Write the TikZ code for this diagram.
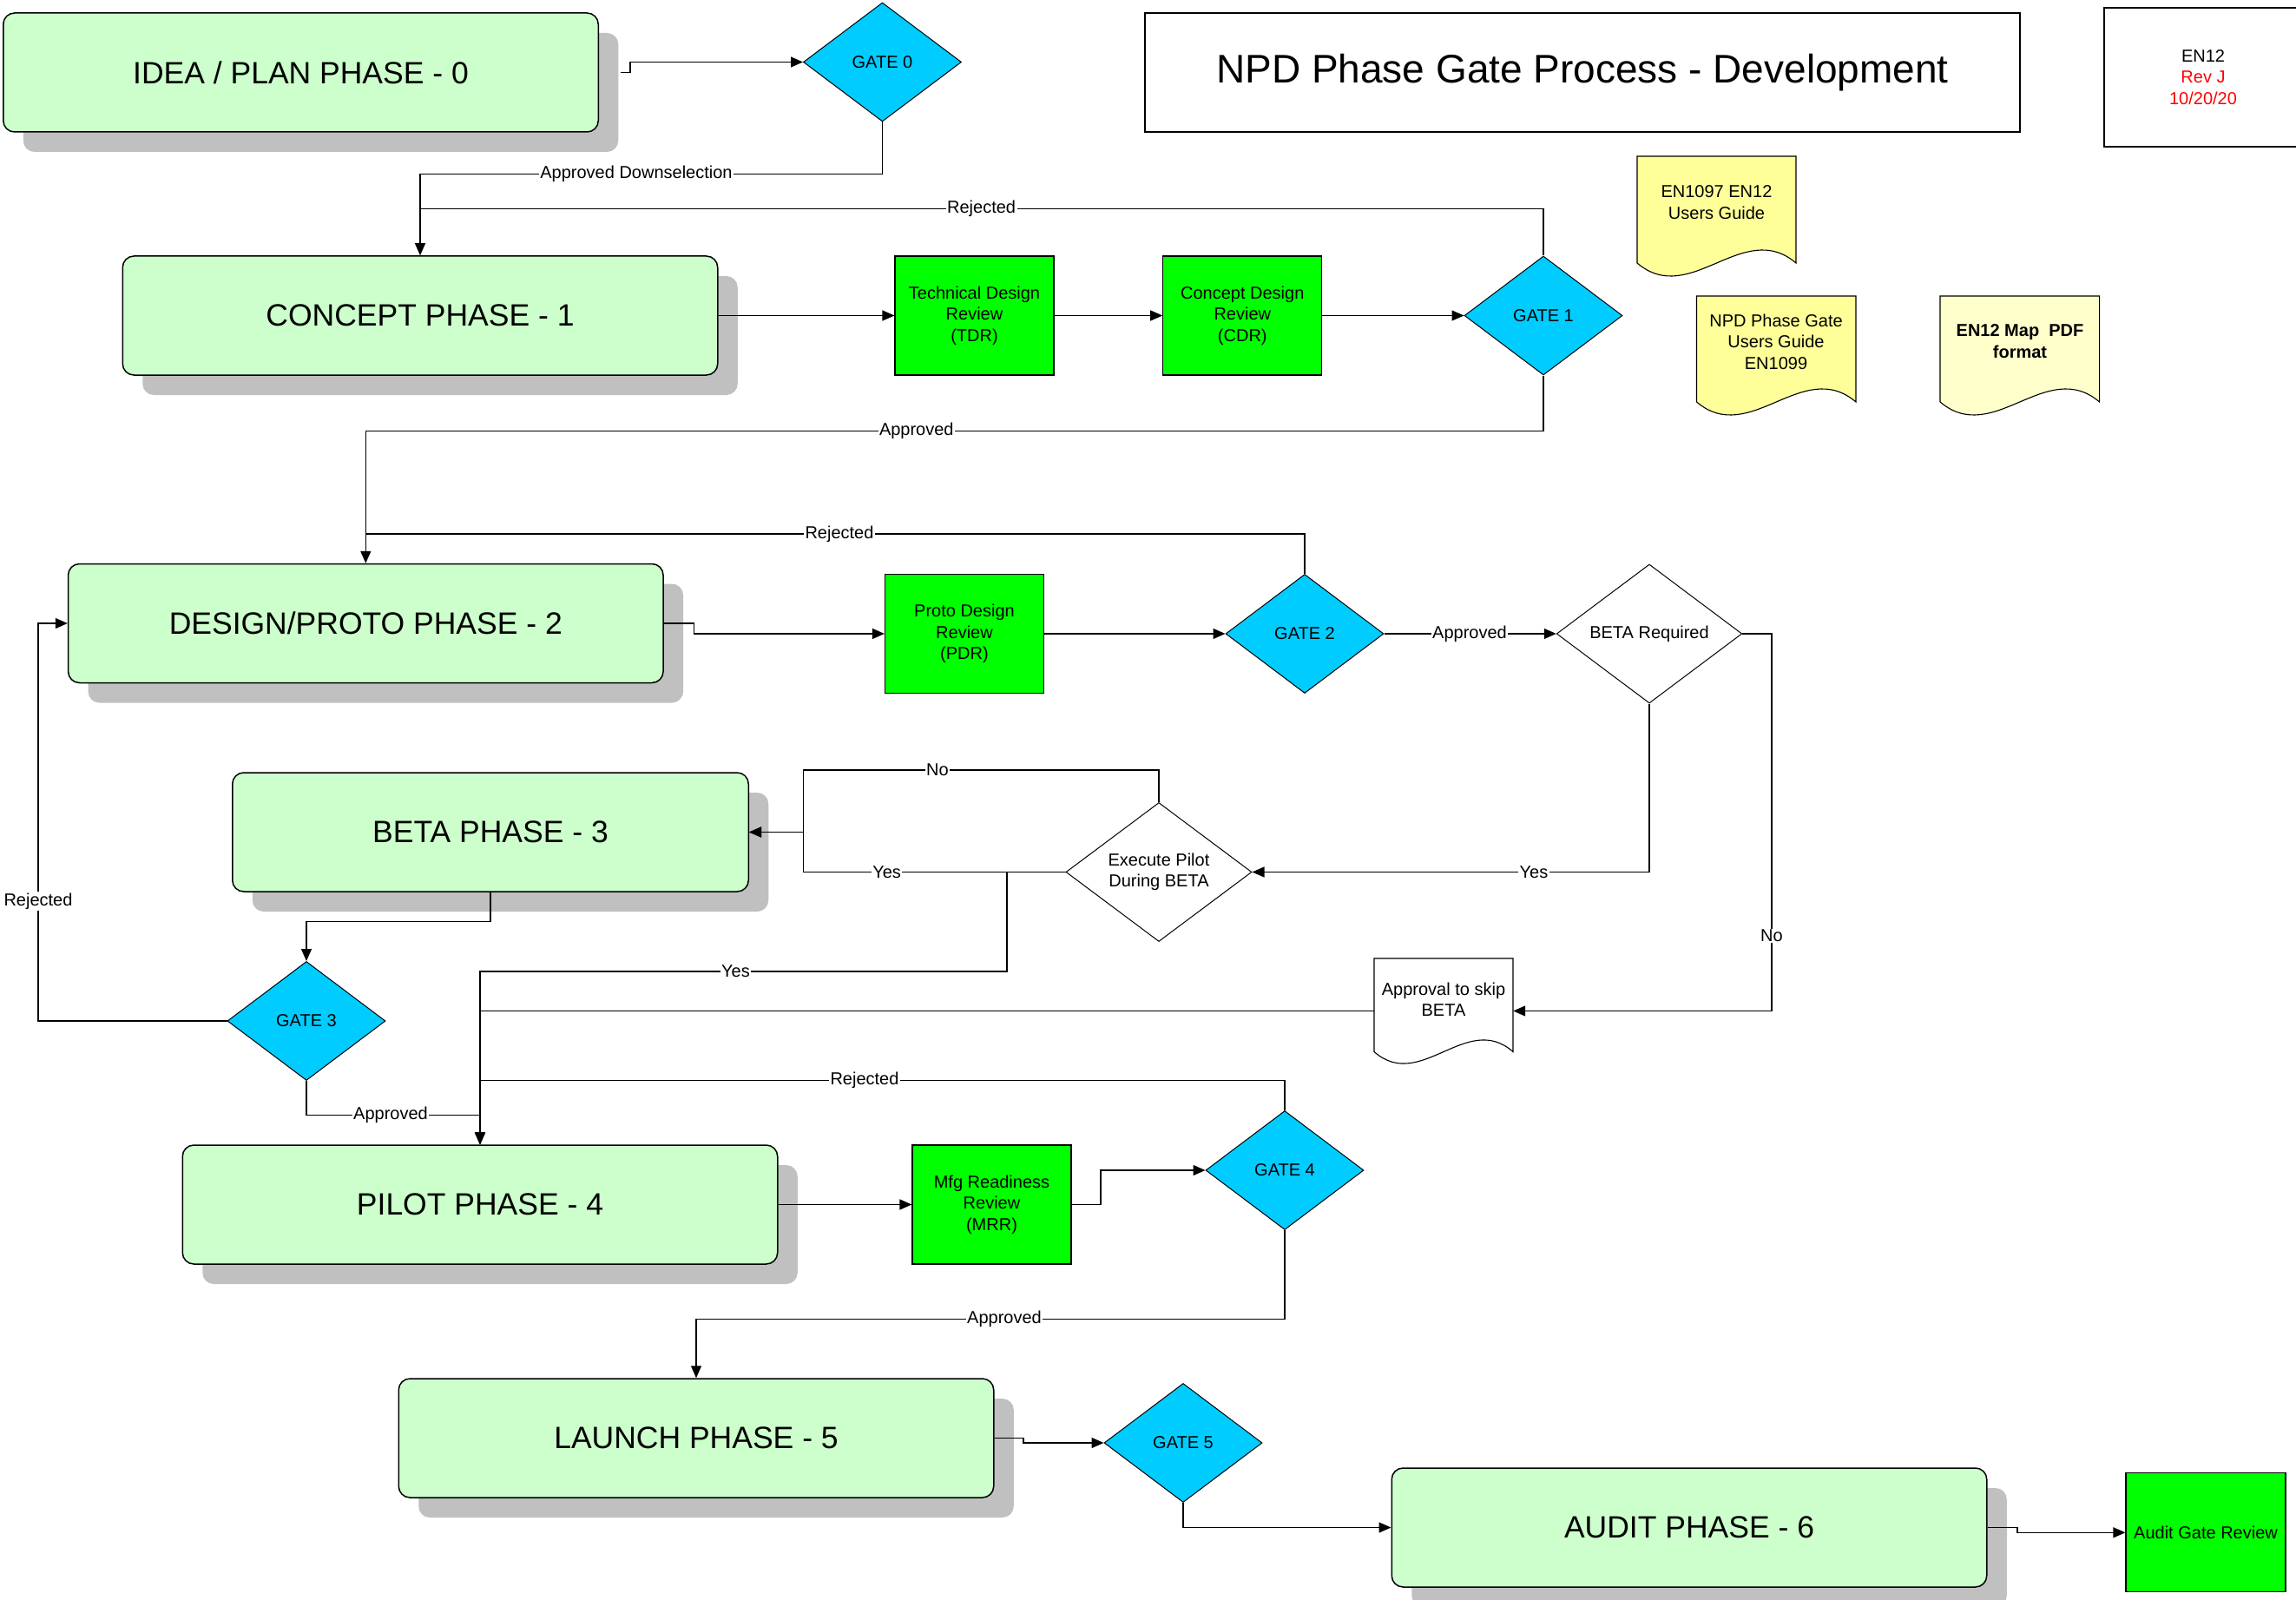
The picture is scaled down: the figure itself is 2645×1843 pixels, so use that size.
\documentclass[tikz,border=0pt]{standalone}
\usepackage{fontspec}
\setmainfont{Liberation Sans}
\usetikzlibrary{shapes.geometric,arrows.meta,shadows,calc}
\definecolor{phasefill}{HTML}{CCFFCC}
\definecolor{shadowgray}{HTML}{C0C0C0}
\definecolor{revgreen}{HTML}{00FF00}
\definecolor{gatecyan}{HTML}{00CCFF}
\definecolor{docyellow}{HTML}{FFFF99}
\definecolor{docpale}{HTML}{FFFFCC}
\definecolor{revred}{HTML}{FF0000}
\newcommand{\labfont}{\fontsize{20}{24.5}\selectfont}
\newcommand{\phasefont}{\fontsize{35.5}{40}\selectfont}
\newcommand{\titlefont}{\fontsize{46}{52}\selectfont}
\tikzset{
  phase/.style={rectangle, rounded corners=13pt, draw=black, line width=1.5pt, fill=phasefill,
    minimum width=685.5pt, minimum height=137pt, inner sep=0pt, font=\phasefont,
    drop shadow={shadow xshift=23pt, shadow yshift=-23pt, fill=shadowgray, opacity=1, draw=none}},
  review/.style={rectangle, draw=black, line width=1.2pt, fill=revgreen, minimum width=183pt,
    minimum height=137pt, inner sep=0pt, align=center, font=\labfont},
  gate/.style={diamond, draw=black, line width=1pt, fill=gatecyan, minimum width=182pt,
    minimum height=137pt, inner sep=0pt, font=\labfont},
  decision/.style={diamond, draw=black, line width=1pt, fill=white, minimum width=214pt,
    minimum height=160pt, inner sep=0pt, align=center, font=\labfont},
  doctext/.style={align=center, inner sep=0pt, font=\labfont},
  docline/.style={draw=black, line width=1.1pt},
  conn/.style={draw=black, line width=1.2pt},
  arr/.style={conn, -{Triangle[length=14pt,width=12pt]}},
  lab/.style={fill=white, inner sep=1.5pt, font=\labfont},
}
\begin{document}
\begin{tikzpicture}[x=1pt, y=-1pt]
\useasboundingbox (0,0) rectangle (2645,1843);
\fill[white] (0,0) rectangle (2645,1843);

% title and revision boxes
\node[draw=black, line width=1.5pt, minimum width=1008pt, minimum height=137pt, inner sep=0pt, font=\titlefont] (title) at (1823,83.5) {NPD Phase Gate Process - Development};
\node[draw=black, line width=1.5pt, minimum width=228pt, minimum height=160pt, inner sep=0pt, align=center, font=\labfont] (rev) at (2538,89) {EN12\\\textcolor{revred}{Rev J}\\\textcolor{revred}{10/20/20}};

% documents
\filldraw[docline, fill=docyellow] (1886,180) -- (2069,180) -- (2069,303) .. controls (2008,251) and (1947,355) .. (1886,303) -- cycle;
\node[doctext] (doca) at (1977.5,233) {EN1097 EN12\\Users Guide};
\filldraw[docline, fill=docyellow] (1954.5,341) -- (2138,341) -- (2138,463) .. controls (2076.8,411) and (2015.7,515) .. (1954.5,463) -- cycle;
\node[doctext] (docb) at (2046,393.5) {NPD Phase Gate\\Users Guide\\EN1099};
\filldraw[docline, fill=docpale] (2235,341) -- (2418.6,341) -- (2418.6,463) .. controls (2357.4,411) and (2296.2,515) .. (2235,463) -- cycle;
\node[doctext, font=\labfont\bfseries] (docc) at (2327,393) {EN12 Map~~PDF\\format};
\filldraw[docline, fill=white] (1583,1104) -- (1743,1104) -- (1743,1211.5) .. controls (1689.7,1164.5) and (1636.3,1258.5) .. (1583,1211.5) -- cycle;
\node[inner sep=0pt, minimum width=160pt, minimum height=121pt] (skip) at (1663,1164.5) {};
\node[doctext] (skiptext) at (1663,1151) {Approval to skip\\BETA};

% phases
\node[phase] (p0) at (346.5,83.5) {IDEA / PLAN PHASE - 0};
\node[phase] (p1) at (484,363.5) {CONCEPT PHASE - 1};
\node[phase] (p2) at (421.3,718) {DESIGN/PROTO PHASE - 2};
\node[phase, minimum width=594.5pt] (p3) at (565,958.5) {BETA PHASE - 3};
\node[phase] (p4) at (553,1387.5) {PILOT PHASE - 4};
\node[phase] (p5) at (802,1656.5) {LAUNCH PHASE - 5};
\node[phase] (p6) at (1946,1759.5) {AUDIT PHASE - 6};

% reviews
\node[review] (tdr) at (1122.5,363.5) {Technical Design\\Review\\(TDR)};
\node[review] (cdr) at (1431.3,363.5) {Concept Design\\Review\\(CDR)};
\node[review] (pdr) at (1111,730) {Proto Design\\Review\\(PDR)};
\node[review] (mrr) at (1142.5,1387.5) {Mfg Readiness\\Review\\(MRR)};
\node[review, minimum width=184pt] (agr) at (2541,1765.3) {Audit Gate Review};

% gates and decisions
\node[gate] (g0) at (1016.5,71.5) {GATE 0};
\node[gate] (g1) at (1778,363.5) {GATE 1};
\node[gate] (g2) at (1503,730) {GATE 2};
\node[gate] (g3) at (353,1176) {GATE 3};
\node[gate] (g4) at (1480,1348) {GATE 4};
\node[gate] (g5) at (1363,1662) {GATE 5};
\node[decision, minimum width=213.5pt] (br) at (1900,730) {BETA Required};
\node[decision] (ep) at (1335,1004.5) {Execute Pilot\\During BETA};

% connectors
\draw[arr] ([xshift=25pt]p0.east) -- ++(11,0) |- (g0.west);
\draw[arr] (g0.south) |- (484,200.7) -- (p1.north);
\draw[conn] (g1.north) |- (484,240.7);
\draw[arr] (p1.east) -- (tdr.west);
\draw[arr] (tdr.east) -- (cdr.west);
\draw[arr] (cdr.east) -- (g1.west);
\draw[arr] (g1.south) |- (421.3,496.7) -- (p2.north);
\draw[conn] (g2.north) |- (421.3,615);
\draw[arr] (p2.east) -- ++(35,0) |- (pdr.west);
\draw[arr] (pdr.east) -- (g2.west);
\draw[arr] (g2.east) -- (br.west);
\draw[arr] (br.south) |- (ep.east);
\draw[arr] (br.east) -| (2041,1164.5) -- (skip.east);
\draw[arr] (ep.north) |- (925.6,887) |- (p3.east);
\draw[arr] (ep.west) -| (925.6,958.5) -- (p3.east);
\draw[arr] (ep.west) -- (1160,1004.5) |- (553,1119) -- (p4.north);
\draw[arr] (skip.west) -- (553,1164.5) -- (p4.north);
\draw[arr] (g3.south) |- (553,1284.5) -- (p4.north);
\draw[arr] (g4.north) |- (553,1244.5) -- (p4.north);
\draw[arr] (g3.west) -| (44,718) -- (p2.west);
\draw[arr] (p3.south) -- (565,1061.7) -| (g3.north);
\draw[arr] (p4.east) -- (mrr.west);
\draw[arr] (mrr.east) -- (1268,1387.5) |- (g4.west);
\draw[arr] (g4.south) |- (802,1519.5) -- (p5.north);
\draw[arr] (p5.east) -- (1179,1656.5) |- (g5.west);
\draw[arr] (g5.south) |- (p6.west);
\draw[arr] (p6.east) -- (2324,1759.5) |- (agr.west);

% connector labels
\node[lab] (l1) at (733,200.7) {Approved Downselection};
\node[lab] (l2) at (1130.6,240.7) {Rejected};
\node[lab] (l3) at (1055.8,496.7) {Approved};
\node[lab] (l4) at (967,615) {Rejected};
\node[lab] (l5) at (1693,730) {Approved};
\node[lab] (l6) at (1767,1004.5) {Yes};
\node[lab] (l7) at (2041,1078) {No};
\node[lab] (l8) at (1080,887) {No};
\node[lab] (l9) at (1021.6,1004.5) {Yes};
\node[lab] (l10) at (847.5,1119) {Yes};
\node[lab] (l11) at (996,1244.5) {Rejected};
\node[lab] (l12) at (450,1284.5) {Approved};
\node[lab] (l13) at (44,1038) {Rejected};
\node[lab] (l14) at (1157,1519.5) {Approved};
\end{tikzpicture}
\end{document}
